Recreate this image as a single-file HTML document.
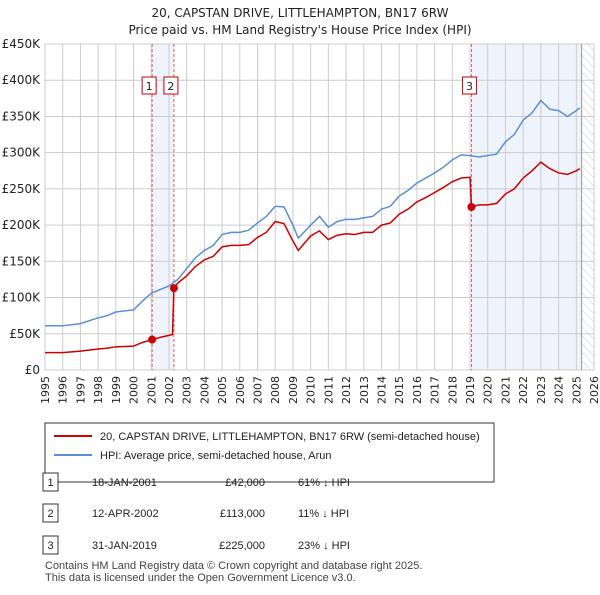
<!DOCTYPE html>
<html><head><meta charset="utf-8"><style>
body{margin:0;background:#fff;font-family:"Liberation Sans","DejaVu Sans",sans-serif;}
svg text{font-family:"DejaVu Sans","Liberation Sans",sans-serif;}
svg text.ls{font-family:"Liberation Sans","DejaVu Sans",sans-serif;}
</style></head><body>
<svg id="c" width="600" height="590" xmlns="http://www.w3.org/2000/svg">
<defs><pattern id="hatch" width="6" height="6" patternUnits="userSpaceOnUse" patternTransform="rotate(-45)"><line x1="0" y1="0" x2="0" y2="6" stroke="#ccc" stroke-width="1"/></pattern></defs>
<text x="300" y="17" text-anchor="middle" font-size="12" fill="#222">20, CAPSTAN DRIVE, LITTLEHAMPTON, BN17 6RW</text>
<text x="300" y="34" text-anchor="middle" font-size="12" fill="#222">Price paid vs. HM Land Registry's House Price Index (HPI)</text>
<g id="plot"></g>
<g>
<rect x="45" y="423" width="449" height="59" fill="#fff" stroke="#333"/>
<line x1="54" y1="436" x2="92" y2="436" stroke="#cc0000" stroke-width="2"/>
<text class="ls" x="100" y="440" font-size="11" fill="#222">20, CAPSTAN DRIVE, LITTLEHAMPTON, BN17 6RW (semi-detached house)</text>
<line x1="54" y1="455" x2="92" y2="455" stroke="#5b8fd4" stroke-width="2"/>
<text class="ls" x="100" y="459" font-size="11" fill="#222">HPI: Average price, semi-detached house, Arun</text>
</g>
<g id="table" font-size="11" fill="#222"></g>
<text class="ls" x="45" y="569" font-size="11" fill="#444">Contains HM Land Registry data © Crown copyright and database right 2025.</text>
<text class="ls" x="45" y="581" font-size="11" fill="#444">This data is licensed under the Open Government Licence v3.0.</text>
</svg>
<script>
const hpiYears=[1995,1996,1997,1998,1998.5,1999,2000,2000.5,2001,2002,2002.5,2003,2003.5,2004,2004.5,2005,2005.5,2006,2006.5,2007,2007.5,2008,2008.5,2009,2009.3,2010,2010.5,2011,2011.5,2012,2012.5,2013,2013.5,2014,2014.5,2015,2015.5,2016,2016.5,2017,2017.5,2018,2018.5,2019,2019.5,2020,2020.5,2021,2021.5,2022,2022.5,2023,2023.5,2024,2024.5,2025,2025.2];
const hpiValues=[61,61,64,72,75,80,83,95,106,116,125,140,155,165,172,187,190,190,193,203,212,226,225,200,182,200,212,197,205,208,208,210,212,222,226,240,248,258,265,272,280,290,297,296,294,296,298,315,325,345,355,372,360,358,350,358,362];
const priceYears=[1995,1996,1997,1998,1998.5,1999,2000,2000.5,2001.05,2001.5,2002.2,2002.28,2002.5,2003,2003.5,2004,2004.5,2005,2005.5,2006,2006.5,2007,2007.5,2008,2008.5,2009,2009.3,2010,2010.5,2011,2011.5,2012,2012.5,2013,2013.5,2014,2014.5,2015,2015.5,2016,2016.5,2017,2017.5,2018,2018.5,2019.0,2019.08,2019.5,2020,2020.5,2021,2021.5,2022,2022.5,2023,2023.5,2024,2024.5,2025,2025.2];
const priceValues=[24,24,26,29,30,32,33,38,42,45,49,113,120,130,143,152,157,170,172,172,173,183,190,205,202,178,165,185,192,180,186,188,187,190,190,200,203,215,222,232,238,245,252,260,265,266,225,228,228,230,243,250,265,275,287,278,272,270,275,278];
const saleLabels=["1","2","3"];
const saleYears=[2001.05,2002.28,2019.08];
const saleValues=[42,113,225];
const saleDates=["18-JAN-2001","12-APR-2002","31-JAN-2019"];
const salePrices=["£42,000","£113,000","£225,000"];
const saleDiffs=["61% ↓ HPI","11% ↓ HPI","23% ↓ HPI"];
const yTicks=[0,50,100,150,200,250,300,350,400,450];
const yTickLabels=["£0","£50K","£100K","£150K","£200K","£250K","£300K","£350K","£400K","£450K"];
const xTicks=[1995,1996,1997,1998,1999,2000,2001,2002,2003,2004,2005,2006,2007,2008,2009,2010,2011,2012,2013,2014,2015,2016,2017,2018,2019,2020,2021,2022,2023,2024,2025,2026];
const dataEnd=2025.3;

const X0=45,X1=594,Y0=370,Y1=44;
const sx=v=>X0+(v-1995)/(2026-1995)*(X1-X0);
const sy=v=>Y0-v/450*(Y0-Y1);
const NS="http://www.w3.org/2000/svg";
const plot=document.getElementById('plot');
function mk(tag,attrs,parent){const e=document.createElementNS(NS,tag);for(const k in attrs)e.setAttribute(k,attrs[k]);(parent||plot).appendChild(e);return e;}

let e;
e=mk('rect',{x:X0,y:Y1,width:X1-X0,height:Y0-Y1,fill:'#fff'});


e=mk('rect',{x:sx(saleYears[0]),y:Y1,width:sx(saleYears[1])-sx(saleYears[0]),height:Y0-Y1,fill:'#eef3fc'});


e=mk('rect',{x:sx(saleYears[2]),y:Y1,width:sx(dataEnd)-sx(saleYears[2]),height:Y0-Y1,fill:'#eef3fc'});


e=mk('rect',{x:sx(dataEnd),y:Y1,width:X1-sx(dataEnd),height:Y0-Y1,fill:'url(#hatch)'});


xTicks.forEach(t=>{
 e=mk('line',{x1:sx(t),x2:sx(t),y1:Y1,y2:Y0,stroke:'#ccc','stroke-width':1});
 
 
 e=mk('text',{x:sx(t)+4,y:Y0+6,'font-size':11,fill:'#222',transform:`rotate(-90 ${sx(t)+4} ${Y0+6})`,'text-anchor':'end'});
 e.textContent=t;
 
 
});
yTicks.forEach((t,i)=>{
 e=mk('line',{x1:X0,x2:X1,y1:sy(t),y2:sy(t),stroke:'#ccc','stroke-width':1});
 
 
 e=mk('text',{x:X0-5,y:sy(t)+4,'font-size':12,fill:'#222','text-anchor':'end'});
 e.textContent=yTickLabels[i];
 
 
});
e=mk('line',{x1:sx(dataEnd),x2:sx(dataEnd),y1:Y1,y2:Y0,stroke:'#999','stroke-width':1});


saleYears.forEach((y,i)=>{
 e=mk('line',{x1:sx(y),x2:sx(y),y1:Y1,y2:Y0,stroke:'#e06060','stroke-width':1,'stroke-dasharray':'3,2'});
 
 
});
e=mk('polyline',{points:hpiYears.map((y,i)=>sx(y)+','+sy(hpiValues[i])).join(' '),fill:'none',stroke:'#5b8fd4','stroke-width':1.5});


e=mk('polyline',{points:priceYears.map((y,i)=>sx(y)+','+sy(priceValues[i])).join(' '),fill:'none',stroke:'#cc0000','stroke-width':1.5});


const boxOffsets=[-9,-10,-9];
saleYears.forEach((y,i)=>{
 e=mk('circle',{cx:sx(y),cy:sy(saleValues[i]),r:4,fill:'#cc0000'});
 
 
 const bl=i==1?sx(y)-10:(i==0?sx(y)-10:sx(y)-9);
 e=mk('rect',{x:bl,y:77,width:14,height:17,fill:'#fff',stroke:'#cc0000'});
 
 
 e=mk('text',{x:bl+7,y:90,'font-size':11,fill:'#222','text-anchor':'middle'});
 e.textContent=saleLabels[i];
 
 
});
const tbl=document.getElementById('table');
const rowY=[482,513,545];
saleLabels.forEach((l,i)=>{
 e=mk('rect',{x:43,y:rowY[i]-9,width:15,height:18,fill:'#fff',stroke:'#333'},tbl);
 
 
 e=mk('text',{x:50.5,y:rowY[i]+4,'text-anchor':'middle',class:'ls'},tbl);e.textContent=l;
 
 
 e=mk('text',{x:92,y:rowY[i]+4,class:'ls'},tbl);e.textContent=saleDates[i];
 
 
 e=mk('text',{x:265,y:rowY[i]+4,'text-anchor':'end',class:'ls'},tbl);e.textContent=salePrices[i];
 
 
 e=mk('text',{x:298,y:rowY[i]+4,class:'ls'},tbl);e.textContent=saleDiffs[i];
 
 
});
</script>
</body></html>
